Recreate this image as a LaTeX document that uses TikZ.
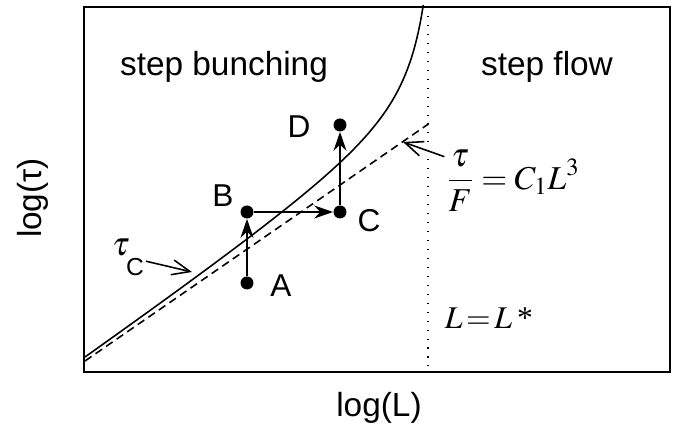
\documentclass[tikz,border=0pt]{standalone}
\usepackage{mathptmx}
\usepackage[no-math]{fontspec}
\setmainfont{Liberation Sans}
\newfontfamily\timesfont{Liberation Serif}
\usetikzlibrary{arrows.meta}

\begin{document}
\begin{tikzpicture}[x=0.02cm, y=-0.02cm,
  lbl/.style={font=\fontsize{19}{22}\selectfont},
  dot/.style={circle, fill=black, inner sep=0pt, minimum size=0.26cm},
  move/.style={-{Stealth[length=0.38cm, width=0.26cm]}, line width=1pt},
  pointer/.style={-{Straight Barb[length=0.36cm, width=0.3cm]}, line width=0.9pt},
  eqn/.style={font=\fontsize{19}{22}\selectfont}]
\useasboundingbox (0,0) rectangle (681,435);
% ---------- frame and the two regimes ----------
\draw[line width=1.3pt] (84,7) rectangle (670,372);
\draw[line width=0.9pt, dash pattern=on 0.6pt off 4.5pt] (428,7) -- (428,372);
\node[lbl] (bunch) at (224,67) {step bunching};
\node[lbl] (flow) at (547,67) {step flow};
% asymptote tau/F = C1 L^3 and the critical curve tau_C
\draw[line width=0.9pt, dash pattern=on 4.5pt off 2.8pt] (85,361) -- (428,124.3);
\draw[line width=0.9pt, domain=85:423.3, samples=200] plot (\x, {364.61-0.69*(\x-85)-2740/(445-\x)});
\coordinate (onC) at (192,272);
\coordinate (onL) at (403,142);
% ---------- the path A -> B -> C -> D ----------
\node[dot] (A) at (247,283) {};
\node[dot] (B) at (247,212) {};
\node[dot] (C) at (340,212) {};
\node[dot] (D) at (340,125) {};
\foreach \p/\x/\y in {A/281/286, B/223/196, C/369/221, D/299/127}
  \node[font=\fontsize{18}{20}\selectfont] (lab\p) at (\x,\y) {\p};
\draw[move] (A) -- (B);
\draw[move] (B) -- (C);
\draw[move] (C) -- (D);
% ---------- labels ----------
\node[font=\fontsize{19}{22}\selectfont, inner sep=1pt] (tauC) at (128,257) {$\tau$\kern-0.1em\raisebox{-0.4cm}{\fontsize{14}{14}\selectfont C}};
\draw[pointer] (tauC) -- (onC);
\node[eqn, inner sep=1pt] (law) at (513,181) {$\displaystyle\frac{\tau}{F}=C_{1}L^{3}$};
\draw[pointer] (law) -- (onL);
\node[font=\fontsize{18}{20}\selectfont\timesfont] (Lstar) at (489,318) {$L\!=\!L$\,*};
\node[lbl] (xlab) at (379,408) {log(L)};
\node[lbl, rotate=90] (ylab) at (33,198) {log(τ)};
\end{tikzpicture}
\end{document}
